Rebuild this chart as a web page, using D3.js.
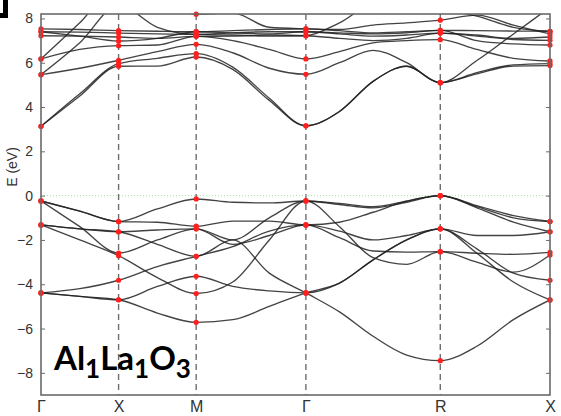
<!DOCTYPE html>
<html lang="en">
<head>
<meta charset="UTF-8">
<title>Al1La1O3 band structure</title>
<style>
  body { margin: 0; background: #fff; }
  svg { display: block; }
</style>
</head>
<body>
<script src="https://cdn.jsdelivr.net/npm/d3@7/dist/d3.min.js"></script>
<script>
// high symmetry path
var kLabels = ["Γ", "X", "M", "Γ", "R", "X"];
var kTicks = [0, 0.5, 1.0, 1.7071, 2.5731, 3.2802];
var kSamples = [0, 0.25, 0.5, 0.75, 1.0, 1.2357, 1.4714, 1.7071,
                1.9236, 2.1401, 2.3566, 2.5731, 2.8088, 3.0445, 3.2802];
var tickIdx = [0, 2, 4, 7, 11, 14];
var yTicks = [-8, -6, -4, -2, 0, 2, 4, 6, 8];

// valence bands (eV)
var bandA = [-0.24, -0.70, -1.17, -0.60, -0.15, -0.30, -0.33, -0.24, -0.40, -0.55, -0.30, 0.00, -0.45, -0.90, -1.17];
var bandB = [-0.24, -0.70, -1.17, -1.20, -1.38, -1.15, -1.15, -1.32, -1.20, -0.75, -0.25, 0.00, -0.55, -1.20, -1.63];
var bandC = [-0.24, -1.40, -2.59, -2.00, -1.50, -2.00, -1.00, -0.24, -1.40, -2.80, -3.10, -2.53, -3.00, -3.45, -2.68];
var bandD = [-1.32, -1.50, -1.63, -2.20, -2.74, -2.00, -3.50, -4.39, -5.25, -6.35, -7.20, -7.45, -6.80, -5.60, -4.71];
var bandE = [-1.32, -1.50, -1.63, -1.55, -1.50, -2.20, -1.80, -1.32, -1.90, -2.50, -2.55, -2.53, -2.60, -2.65, -2.56];
var bandF = [-1.32, -2.00, -2.71, -3.70, -4.42, -3.90, -2.00, -0.24, -0.35, -0.50, -0.25, 0.00, -0.50, -1.00, -1.17];
var bandG = [-4.39, -4.20, -3.82, -3.20, -2.74, -2.30, -1.60, -1.32, -1.60, -2.00, -1.80, -1.50, -1.80, -1.80, -1.63];
var bandH = [-4.39, -4.55, -4.70, -5.30, -5.72, -5.60, -5.00, -4.39, -3.95, -2.90, -2.00, -1.50, -2.60, -3.90, -4.71];
var bandI = [-4.39, -4.55, -4.70, -4.10, -3.64, -4.10, -4.30, -4.39, -3.95, -2.90, -2.00, -1.50, -2.40, -3.50, -3.82];

// conduction bands (eV)
var band1 = [3.13, 4.50, 5.84, 5.85, 6.26, 5.70, 4.30, 3.15, 3.80, 5.16, 5.84, 5.10, 5.50, 5.85, 5.87];
var band2 = [3.13, 4.60, 5.96, 6.20, 6.41, 5.80, 4.40, 3.15, 3.80, 5.16, 5.84, 5.10, 6.10, 7.30, 8.50];
var band3 = [5.46, 5.75, 6.11, 6.50, 6.83, 6.45, 5.75, 5.48, 6.00, 6.56, 6.00, 5.10, 5.55, 5.90, 5.96];
var band4 = [5.46, 6.90, 8.60, 7.60, 7.28, 7.25, 7.20, 7.22, 7.80, 8.60, 8.50, 8.40, 8.10, 7.60, 7.42];
var band5 = [6.17, 7.80, 9.50, 9.00, 8.19, 8.25, 7.60, 7.53, 7.50, 7.70, 7.80, 7.92, 8.15, 7.70, 7.30];
var band6 = [6.17, 6.60, 6.77, 6.80, 7.19, 7.00, 6.60, 6.17, 6.50, 6.90, 7.00, 7.04, 6.60, 6.20, 6.08];
var band7 = [7.53, 7.50, 7.45, 7.42, 7.40, 7.45, 7.50, 7.53, 7.45, 7.35, 7.40, 7.46, 7.45, 7.43, 7.42];
var band8 = [7.40, 7.38, 7.34, 7.30, 7.28, 7.35, 7.40, 7.40, 7.30, 7.20, 7.25, 7.34, 7.25, 7.10, 7.16];
var band9 = [7.22, 7.20, 7.16, 7.10, 7.19, 7.20, 7.25, 7.22, 7.10, 7.00, 7.10, 7.34, 7.20, 7.05, 7.01];
var band10 = [7.40, 7.20, 6.98, 7.10, 7.40, 7.35, 7.30, 7.40, 7.35, 7.30, 7.35, 7.46, 7.00, 6.85, 6.80];

var bands = [bandA, bandB, bandC, bandD, bandE, bandF, bandG, bandH, bandI,
             band1, band2, band3, band4, band5, band6, band7, band8, band9, band10];

var width = 561, height = 416,
    plotL = 41, plotR = 550, plotT = 14, plotB = 395;

var x = d3.scaleLinear().domain([0, 3.2802]).range([plotL, plotR]),
    y = d3.scaleLinear().domain([-9, 8.2]).range([plotB, plotT]);

var svg = d3.select("body").append("svg")
    .attr("width", width)
    .attr("height", height)
    .style("font-family", "'Liberation Sans', Arial, sans-serif");

svg.append("clipPath").attr("id", "plotClip")
  .append("rect")
    .attr("x", plotL).attr("y", plotT)
    .attr("width", plotR - plotL).attr("height", plotB - plotT);

// dashed lines at the inner high symmetry points
svg.selectAll("line.kline")
  .data(kTicks.slice(1, -1))
  .enter().append("line")
    .attr("class", "kline")
    .attr("x1", function(d){ return x(d); })
    .attr("x2", function(d){ return x(d); })
    .attr("y1", plotT).attr("y2", plotB)
    .attr("stroke", "#6e6e6e")
    .attr("stroke-width", 1.4)
    .attr("stroke-dasharray", "6,4");

// Fermi level
svg.append("line")
    .attr("x1", plotL).attr("x2", plotR)
    .attr("y1", y(0)).attr("y2", y(0))
    .attr("stroke", "#9be59b")
    .attr("stroke-width", 1)
    .attr("stroke-dasharray", "1,2");

var line = d3.line()
    .x(function(d, i){ return x(kSamples[i]); })
    .y(function(d){ return y(d); })
    .curve(d3.curveMonotoneX);

svg.append("g")
    .attr("clip-path", "url(#plotClip)")
  .selectAll("path.band")
  .data(bands)
  .enter().append("path")
    .attr("class", "band")
    .attr("d", line)
    .attr("fill", "none")
    .attr("stroke", "#222")
    .attr("stroke-opacity", 0.85)
    .attr("stroke-width", 1.35);

// red markers at the high symmetry points
var dots = [];
bands.forEach(function(b){
  tickIdx.forEach(function(t){
    if (b[t] <= 8.2) dots.push({k: kSamples[t], e: b[t]});
  });
});
svg.append("g")
  .selectAll("circle")
  .data(dots)
  .enter().append("circle")
    .attr("cx", function(d){ return x(d.k); })
    .attr("cy", function(d){ return y(d.e); })
    .attr("r", 2.6)
    .attr("fill", "#ff1f1f");

// frame
svg.append("rect")
    .attr("x", plotL).attr("y", plotT)
    .attr("width", plotR - plotL).attr("height", plotB - plotT)
    .attr("fill", "none")
    .attr("stroke", "#6a6a6a")
    .attr("stroke-width", 1.6);

var yAxis = d3.axisLeft(y)
    .tickValues(yTicks)
    .tickSize(-4)
    .tickPadding(8)
    .tickFormat(d3.format("d"));

var gy = svg.append("g")
    .attr("transform", "translate(" + plotL + ",0)")
    .call(yAxis);
gy.select(".domain").remove();
gy.selectAll("line").attr("stroke", "#6a6a6a");
gy.selectAll("text")
    .attr("fill", "#333")
    .style("font-size", "14px")
    .style("font-family", "'Liberation Sans', Arial, sans-serif");

var gyr = svg.append("g")
    .attr("transform", "translate(" + plotR + ",0)")
    .call(d3.axisRight(y).tickValues(yTicks).tickSize(-4).tickFormat(""));
gyr.select(".domain").remove();
gyr.selectAll("line").attr("stroke", "#6a6a6a");

var xAxis = d3.axisBottom(x)
    .tickValues(kTicks)
    .tickSize(0)
    .tickPadding(6)
    .tickFormat(function(d, i){ return kLabels[i]; });

var gx = svg.append("g")
    .attr("transform", "translate(0," + plotB + ")")
    .call(xAxis);
gx.select(".domain").remove();
gx.selectAll("text")
    .attr("fill", "#333")
    .style("font-size", "16px")
    .style("font-family", "'Liberation Sans', Arial, sans-serif");

svg.append("text")
    .attr("transform", "translate(17,167) rotate(-90)")
    .attr("text-anchor", "middle")
    .attr("fill", "#333")
    .style("font-size", "14px")
    .text("E (eV)");

// compound label
var label = svg.append("text")
    .attr("x", 54).attr("y", 378)
    .attr("fill", "#000")
    .style("font-family", "Lato, 'Open Sans', sans-serif")
    .style("font-weight", "bold")
    .style("font-size", "33px");
[["Al", false], ["1", true], ["La", false], ["1", true], ["O", false], ["3", true]]
  .forEach(function(p){
    label.append("tspan")
      .attr("dy", p[1] ? 8 : (label.selectAll("tspan").size() ? -8 : 0))
      .style("font-size", p[1] ? "26px" : "33px")
      .text(p[0]);
  });

// cropped panel letter in the corner
svg.append("path")
    .attr("d", "M3,0 H8 V18 H0 V13 H3 Z")
    .attr("fill", "#000");
</script>
</body>
</html>
